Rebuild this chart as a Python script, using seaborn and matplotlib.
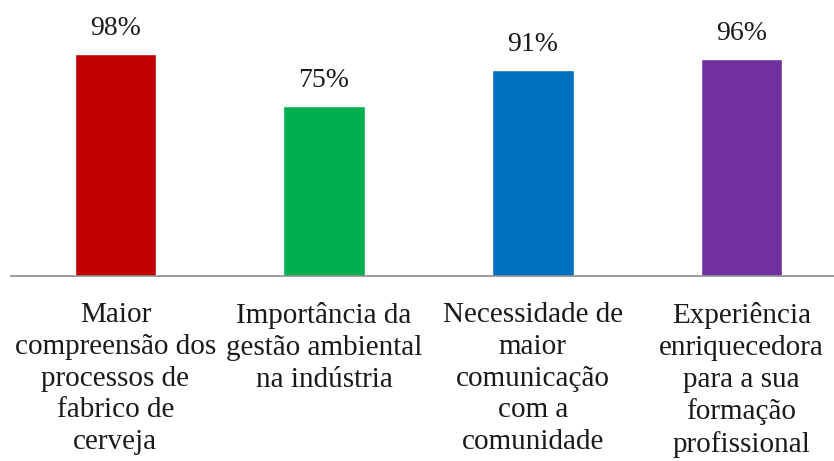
import numpy as np
import pandas as pd
import seaborn as sns
import matplotlib.pyplot as plt

# Data
categories = [
    'Maior\ncompreensão dos\nprocessos de\nfabrico de\ncerveja',
    'Importância da\ngestão ambiental\nna indústria',
    'Necessidade de\nmaior\ncomunicação\ncom a\ncomunidade',
    'Experiência\nenriquecedora\npara a sua\nformação\nprofissional',
]
values = [0.98, 0.75, 0.91, 0.96]
colors = ['#C00000', '#00B050', '#0070C0', '#7030A0']

df = pd.DataFrame({'categoria': categories, 'valor': values})

sns.set_theme(style='white')
plt.rcParams['font.family'] = 'serif'
plt.rcParams['font.serif'] = ['Liberation Serif', 'DejaVu Serif']

fig = plt.figure(figsize=(8.34, 4.61), dpi=100)
ax = fig.add_axes([11 / 834, 185 / 461, 823 / 834, 276 / 461])

sns.barplot(data=df, x='categoria', y='valor', hue='categoria',
            palette=colors, width=0.39, legend=False, ax=ax, saturation=1)

for i, v in enumerate(values):
    ax.text(i, v + 0.083, f'{v:.0%}', ha='center', va='baseline',
            fontsize=20, color='#1a1a1a', family='Liberation Serif')

ax.set_xlim(-0.5, 3.443)
ax.set_ylim(0, 1.2185)
ax.set_xlabel('')
ax.set_ylabel('')
ax.set_yticks([])
ax.set_xticks(range(len(categories)))
ax.set_xticklabels(categories, family='Liberation Serif', fontsize=21,
                   linespacing=1.28, color='#1a1a1a')
ax.tick_params(axis='x', length=0, pad=19)

for side in ['top', 'right', 'left']:
    ax.spines[side].set_visible(False)
ax.spines['bottom'].set_color('#8C8C8C')
ax.spines['bottom'].set_linewidth(1.2)

fig.savefig('out.png', dpi=100)
